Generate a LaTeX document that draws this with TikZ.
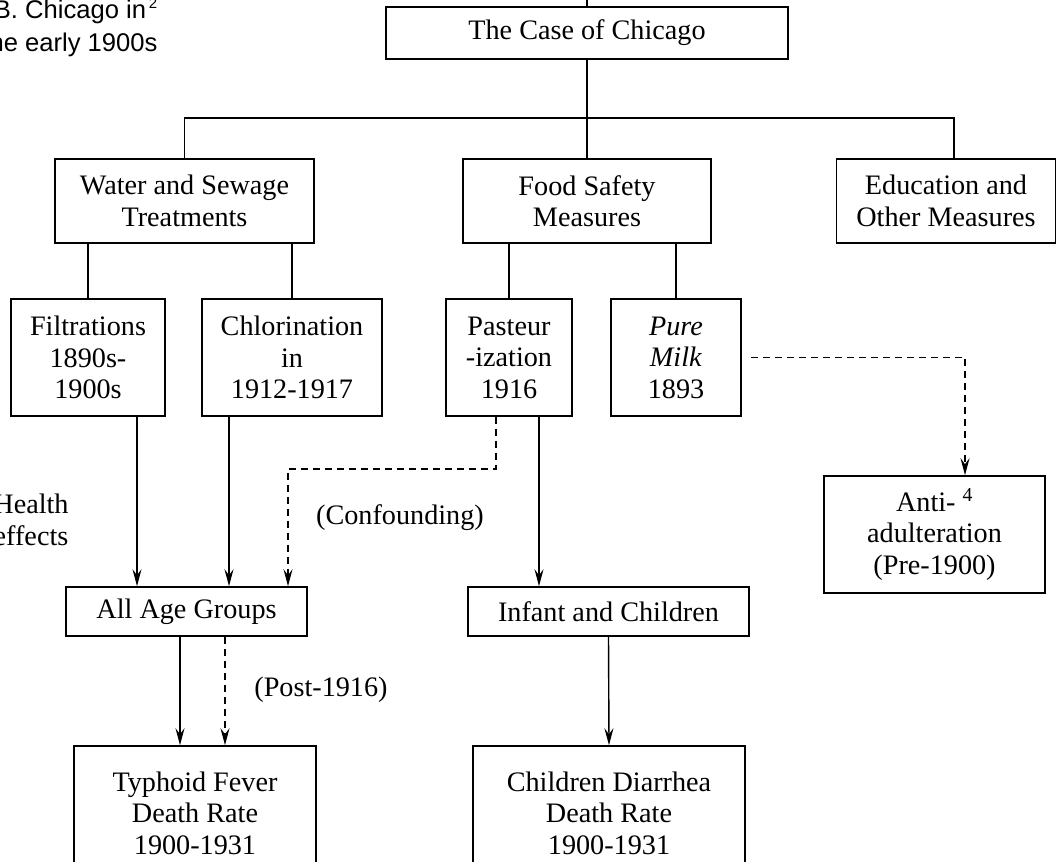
\documentclass[tikz,border=0pt]{standalone}
\usepackage{fontspec}
\setmainfont{Liberation Serif}
\newfontfamily\panelfont{Liberation Sans}
\usetikzlibrary{arrows.meta,positioning,calc}

\begin{document}
\begin{tikzpicture}[
    x=1pt, y=-1pt,
    every node/.style={font=\fontsize{28.2}{31.5}\selectfont},
    box/.style={rectangle, draw, line width=1.6pt, inner sep=0pt, align=center},
    link/.style={line width=1.4pt},
    dashlink/.style={line width=1.4pt, dash pattern=on 7pt off 5pt},
    tip/.style={-{Stealth[length=17pt,width=9pt,inset=6pt]}}
]
    \useasboundingbox (0,0) rectangle (1056,861);

    % Panel caption (cut at the left edge)
    \node[font=\panelfont\fontsize{25.6}{33}\selectfont, align=center] (panel) at (70,28) {B. Chicago in\\the early 1900s};
    \node[font=\panelfont\fontsize{15}{15}\selectfont] (note2) at (153,3) {2};
    \node[align=center] (health) at (31,520) {Health\\effects};

    % Top level
    \node[box, minimum width=402pt, minimum height=52pt] (case) at (587,33) {The Case of Chicago};
    \coordinate (bar) at (587,118);

    % Second level
    \node[box, minimum width=259pt, minimum height=84pt] (water) at (184.5,201) {Water and Sewage\\Treatments};
    \node[box, minimum width=248pt, minimum height=84pt] (food) at (587,201) {Food Safety\\Measures};
    \node[box, minimum width=219pt, minimum height=84pt] (edu) at (946,201) {Education and\\Other Measures};

    % Third level
    \node[box, minimum width=154pt, minimum height=117pt] (filt) at (88,357.5) {Filtrations\\1890s-\\1900s};
    \node[box, minimum width=180pt, minimum height=117pt] (chlor) at (292,357.5) {Chlorination\\in\\1912-1917};
    \node[box, minimum width=126pt, minimum height=117pt] (past) at (509,357.5) {Pasteur\\-ization\\1916};
    \node[box, minimum width=130pt, minimum height=117pt] (milk) at (676,357.5) {\textit{Pure}\\\textit{Milk}\\1893};
    \node[box, minimum width=221pt, minimum height=117pt] (anti) at (934.5,534.5) {Anti- \textsuperscript{4}\\adulteration\\(Pre-1900)};

    % Groups and outcomes
    \node[box, minimum width=241pt, minimum height=49pt] (allage) at (186.5,611.5) {All Age Groups};
    \node[box, minimum width=281pt, minimum height=49pt] (infant) at (608.5,611.5) {Infant and Children};
    \node[box, minimum width=242pt, minimum height=134pt] (typh) at (195,813) {Typhoid Fever\\Death Rate\\1900-1931};
    \node[box, minimum width=272pt, minimum height=134pt] (diarr) at (609,813) {Children Diarrhea\\Death Rate\\1900-1931};

    % Edge labels
    \node (confound) at (400,518) {(Confounding)};
    \node (post) at (321,690) {(Post-1916)};

    % Tree lines
    \draw[link] (case.north) -- ++(0,-8);
    \draw[link] (case.south) -- (food.north);
    \draw[link] (water.north) |- (bar) -| ([xshift=8pt]edu.north);
    \foreach \top/\sub in {water/filt, water/chlor, food/past, food/milk}
        \draw[link] (\top.south -| \sub.north) -- (\sub.north);

    % Ports for the arrows
    \path ([xshift=49pt]filt.south) coordinate (filtout)
          ([xshift=-63pt]chlor.south) coordinate (chlorout)
          ([xshift=-13pt]past.south) coordinate (pastdash)
          ([xshift=30pt]past.south) coordinate (pastout)
          ([xshift=9pt]milk.east) coordinate (milkdash)
          ([xshift=-6.5pt]allage.south) coordinate (ageout)
          ([xshift=38.5pt]allage.south) coordinate (agedash);

    % Arrows
    \draw[link, tip] (filtout) -- (filtout |- allage.north);
    \draw[link, tip] (chlorout) -- (chlorout |- allage.north);
    \draw[dashlink, tip] (pastdash) -- ++(0,52) -| ([xshift=101.5pt]allage.north);
    \draw[link, tip] (pastout) -- (pastout |- infant.north);
    \draw[dashlink, tip] (milkdash) -| ([xshift=30.5pt]anti.north);
    \draw[link, tip] (ageout) -- (ageout |- typh.north);
    \draw[dashlink, tip] (agedash) -- (agedash |- typh.north);
    \draw[link, tip] (infant.south) -- (diarr.north);
\end{tikzpicture}
\end{document}
